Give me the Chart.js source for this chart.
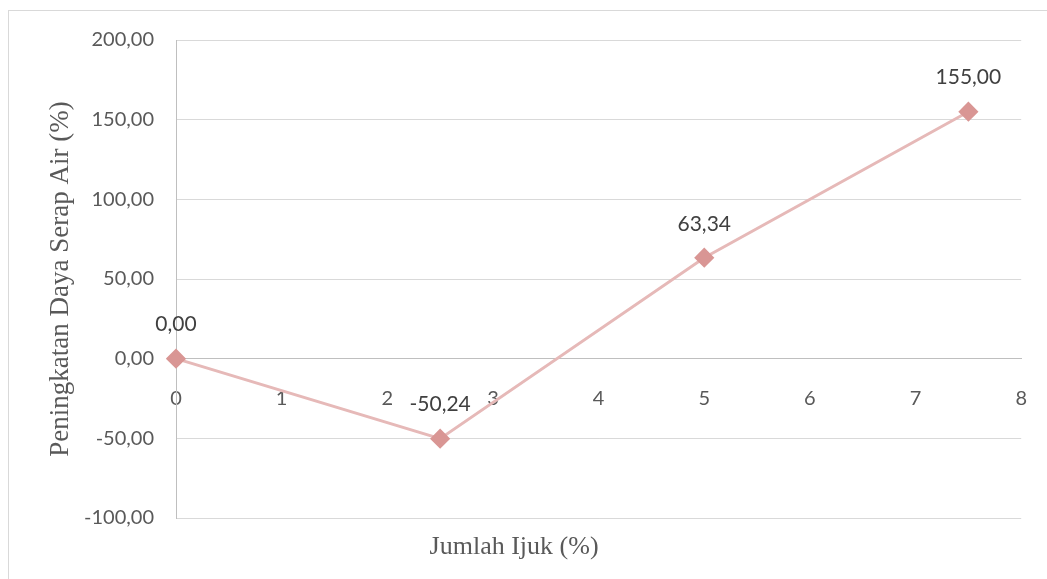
<!DOCTYPE html>
<html>
<head>
<meta charset="utf-8">
<script src="https://cdn.jsdelivr.net/npm/chart.js@4"></script>
<style>
  html, body { margin: 0; padding: 0; background: #fff; overflow: hidden; }
  #wrap { position: relative; width: 1047px; height: 579px; }
  #frame { position: absolute; left: 8px; top: 10px; width: 1100px; height: 600px; border: 1px solid #d9d9d9; pointer-events: none; }
</style>
</head>
<body>
<div id="wrap">
  <canvas id="myChart" width="1047" height="579"></canvas>
  <div id="frame"></div>
</div>
<script>
// data
var ijuk = [0, 2.5, 5, 7.5];
var peningkatan = [0, -50.24, 63.34, 155.00];
var labelNilai = ["0,00", "-50,24", "63,34", "155,00"];

var judulX = "Jumlah Ijuk (%)";
var judulY = "Peningkatan Daya Serap Air (%)";

var titik = ijuk.map(function (x, i) { return { x: x, y: peningkatan[i] }; });

function koma(v) {
    return v.toFixed(2).replace('.', ',');
}

// label nilai di atas tiap titik
var labelPlugin = {
    id: 'labelNilai',
    afterDatasetsDraw: function (chart) {
        var ctx = chart.ctx;
        var meta = chart.getDatasetMeta(0);
        ctx.save();
        ctx.font = '21px Lato';
        ctx.fillStyle = '#404040';
        ctx.textAlign = 'center';
        ctx.textBaseline = 'middle';
        meta.data.forEach(function (pt, i) {
            ctx.fillText(labelNilai[i], pt.x, pt.y - 34);
        });
        ctx.restore();
    }
};

// judul sumbu x di bawah
var judulXPlugin = {
    id: 'judulX',
    afterDraw: function (chart) {
        var ctx = chart.ctx;
        var a = chart.chartArea;
        ctx.save();
        ctx.font = '26px "Liberation Serif"';
        ctx.fillStyle = '#595959';
        ctx.textAlign = 'center';
        ctx.textBaseline = 'middle';
        ctx.fillText(judulX, a.left + (a.right - a.left) * 0.40, a.bottom + 29);
        ctx.restore();
    }
};

const ctx = document.getElementById('myChart').getContext('2d');
const myChart = new Chart(ctx, {
    type: 'scatter',
    data: {
        datasets: [{
            label: judulY,
            data: titik,
            showLine: true,
            borderColor: '#e6b9b8',
            borderWidth: 3,
            backgroundColor: '#d99694',
            pointBackgroundColor: '#d99694',
            pointBorderColor: '#d99694',
            pointStyle: 'rectRot',
            pointRadius: 8,
            pointHoverRadius: 8,
            clip: false
        }]
    },
    options: {
        responsive: false,
        animation: false,
        layout: { padding: { top: 40, right: 25, bottom: 61, left: 0 } },
        plugins: {
            legend: { display: false },
            tooltip: { enabled: false }
        },
        scales: {
            x: {
                type: 'linear',
                min: 0,
                max: 8,
                position: { y: 0 },
                grid: { display: false },
                border: { color: '#bfbfbf', width: 1 },
                ticks: {
                    stepSize: 1,
                    padding: 20,
                    color: '#595959',
                    font: { family: 'Lato', size: 20 },
                    maxRotation: 0
                }
            },
            y: {
                type: 'linear',
                min: -100,
                max: 200,
                position: 'left',
                afterFit: function (scale) { scale.width = 176; },
                grid: { color: '#d9d9d9', lineWidth: 1, drawTicks: false },
                border: { color: '#bfbfbf', width: 1 },
                ticks: {
                    stepSize: 50,
                    padding: 22,
                    color: '#595959',
                    font: { family: 'Lato', size: 20 },
                    callback: function (v) { return koma(v); }
                },
                title: {
                    display: true,
                    text: judulY,
                    color: '#595959',
                    font: { family: 'Liberation Serif', size: 27 },
                    padding: 45
                }
            }
        }
    },
    plugins: [labelPlugin, judulXPlugin]
});
</script>
</body>
</html>
